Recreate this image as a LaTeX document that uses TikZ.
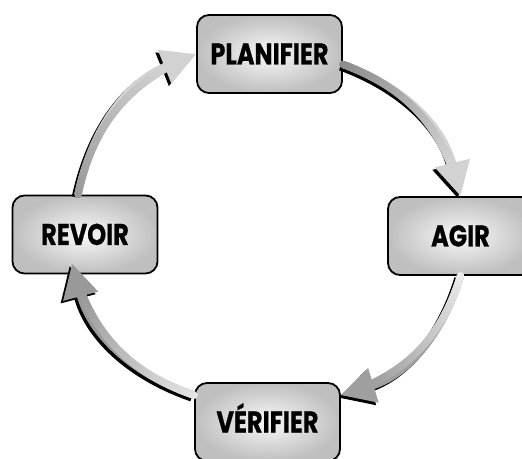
\documentclass[tikz,border=0pt]{standalone}
\usepackage{fontspec}
\newfontfamily\boxfont{Poppins}[FakeStretch=0.8,FakeBold=0.6]
\usetikzlibrary{arrows.meta,decorations.markings}

\tikzset{
  stage/.style={draw=black, line width=1.8pt, rounded corners=12pt,
    minimum width=145pt, minimum height=78pt, inner sep=0pt,
    shading=radial, inner color=gray!5, outer color=gray!50,
    text height=21pt, text depth=0pt,
    font=\boxfont\bfseries\fontsize{30}{30}\selectfont},
  flowshadow/.style={draw=black, line width=7.5pt,
    -{Triangle[length=34pt,width=34pt]}},
  flow/.style 2 args={line width=7.5pt, color=#2,
    -{Triangle[length=34pt,width=34pt]},
    postaction={decorate, decoration={markings,
      mark=between positions 0 and -34pt step 1pt with {
        \colorlet{flowstart}{#1}\colorlet{flowend}{#2}
        \pgfmathtruncatemacro\tone{100*min(1,\pgfkeysvalueof{/pgf/decoration/mark info/distance from start}/(\pgfdecoratedpathlength-34))}
        \fill[flowend!\tone!flowstart] (0,0) circle (3.75pt);}}}}
}

\begin{document}
\begin{tikzpicture}[x=1pt,y=1pt]
  \useasboundingbox (0,0) rectangle (522,458);
  \clip (0,0) rectangle (522,458);
  % the four stages
  \node[stage] (plan) at (269.5,404) {PLANIFIER};
  \node[stage] (agir) at (460.5,222) {AGIR};
  \node[stage] (verif) at (267.5,36) {VÉRIFIER};
  \node[stage] (revoir) at (85,223.5) {REVOIR};
  \coordinate (revoir-in) at ([xshift=-13pt,yshift=11pt]revoir.south);
  \coordinate (revoir-out) at ([xshift=-7pt]revoir.north);
  % the cycle
  \foreach \from/\to/\first/\last in {plan.-8/agir.north/gray!90/gray!35,
      agir.south/verif.20/gray!15/gray!75,
      verif.160/revoir-in/gray!20/gray!80,
      revoir-out/plan.west/gray!80/gray!35}{
    \draw[flowshadow, transform canvas={shift={(-2.5pt,-2.5pt)}}]
      (\from) to[bend left=28] (\to);
    \draw[flow={\first}{\last}] (\from) to[bend left=28] (\to);
  }
\end{tikzpicture}
\end{document}
